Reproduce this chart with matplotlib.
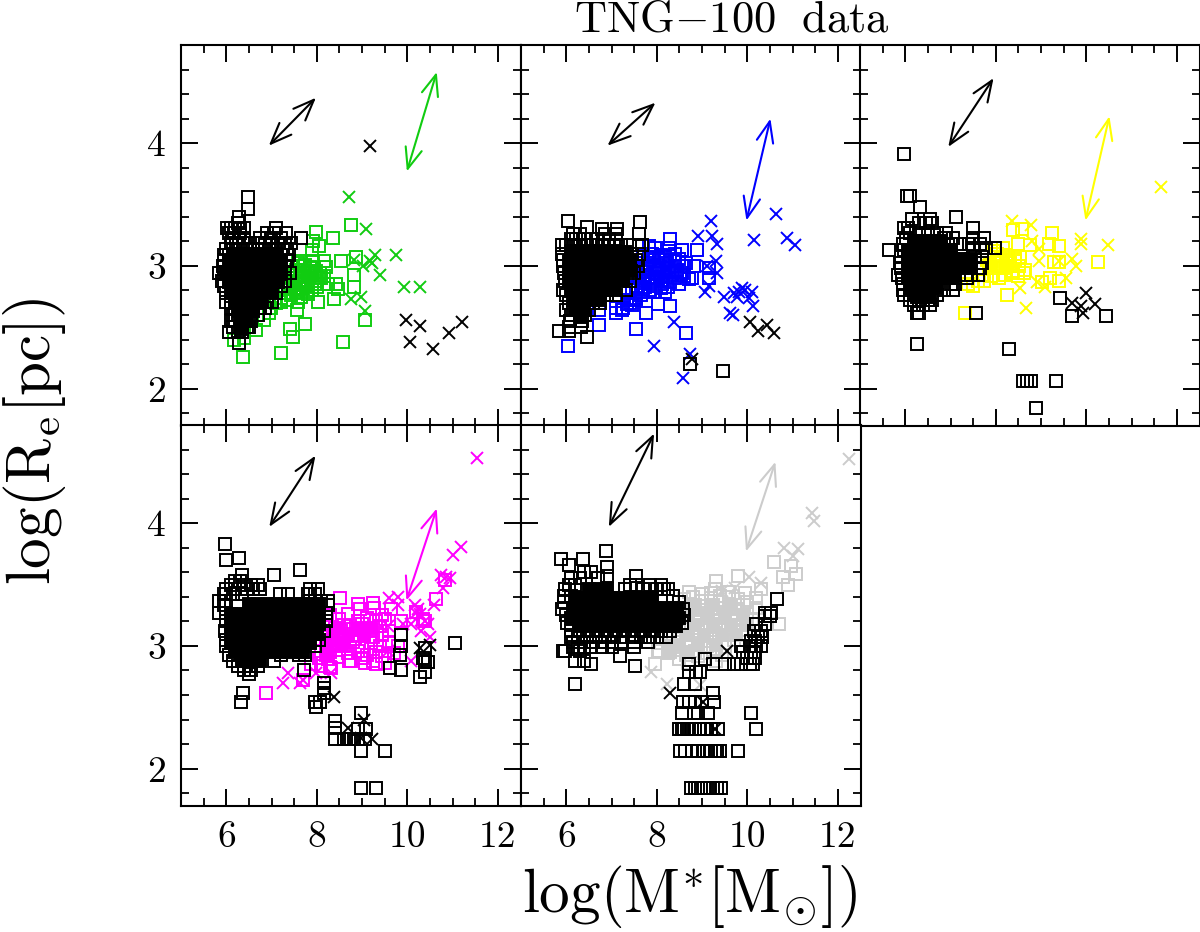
import matplotlib
matplotlib.use("Agg")
import matplotlib.pyplot as plt

plt.rcParams['font.family'] = ['cmr10', 'DejaVu Serif']
plt.rcParams['mathtext.fontset'] = 'cm'
plt.rcParams['axes.formatter.use_mathtext'] = True

# black open squares: (y, [x, ...]) rows
p1_black_sq = [(3.56,[6.47]),(3.46,[6.47]),(3.40,[6.28]),(3.35,[6.27,6.29]),(3.31,[6.02,6.1,6.2,6.31,6.4,7.09]),
	(3.27,[6.05,6.18,6.3,6.9,7.06,7.32]),(3.23,[6.12,6.28,6.4,6.75,6.98,7.2,7.64]),
	(3.19,[6.1,6.22,6.38,6.52,6.7,6.85,7.0,7.15,7.3,7.42]),(3.14,[6.0,6.15,6.3,6.45,6.6,6.78,6.95,7.1,7.25,7.35]),
	(3.09,[5.95,6.05,7.2,7.38]),(3.05,[5.95,7.35]),(3.0,[5.92,7.3]),(2.94,[5.85,5.95,7.3,7.4]),(2.88,[5.9,7.3]),
	(2.84,[5.95,7.2]),(2.78,[6.0,7.1]),(2.71,[6.0,6.1,6.9,7.0]),(2.66,[6.1,6.2,6.75,6.85]),(2.6,[6.15,6.25,6.55,6.7]),
	(2.55,[6.1,6.2,6.5,6.55]),(2.5,[6.15,6.3,6.45,6.5]),(2.46,[6.05,6.25,6.35]),(2.37,[6.29])]
# centre of the clump, where the overlapping squares read as solid black
p1_black_core = [(3.10,[6.15,6.35,6.55,6.75,6.95,7.1]),(3.03,[6.05,6.25,6.45,6.65,6.85,7.05,7.2]),
	(2.95,[6.0,6.2,6.4,6.6,6.8,7.0,7.2]),(2.87,[6.05,6.25,6.45,6.65,6.85,7.05,7.15]),(2.79,[6.1,6.3,6.5,6.7,6.9,7.0]),
	(2.71,[6.2,6.4,6.6,6.8]),(2.63,[6.28,6.45,6.6]),(2.56,[6.3,6.45]),(2.49,[6.35])]
p1_color_core = []
p1_color_sq_x = [7.99,8.75,8.36,7.91,8.04,7.90,7.62,7.91,8.17,8.54,8.87,8.21,8.83,8.82,8.43,8.47,8.24,7.62,7.80,7.95,8.10,7.51,7.73,7.95,7.36,7.58,7.80,8.02,8.37,7.58,7.57,7.21,6.99,6.84,6.66,6.18,6.40,6.38,7.21,7.47,7.41,7.74,8.58,9.06,7.7,7.85,8.0,7.55,7.68,8.15,
	7.42,7.5,7.58,7.66,7.74,7.82,7.9,7.98,8.06,7.45,7.55,7.65,7.75,7.85,7.95,8.05,7.4,7.5,7.6,7.7,7.8,7.9,8.0,7.3,7.42,7.54,7.66,7.78,7.2,7.35,7.1,6.95]
p1_color_sq_y = [3.28,3.33,3.23,3.20,3.16,3.13,3.04,3.04,3.04,3.04,3.07,2.99,2.93,2.83,2.85,2.81,2.85,2.93,2.96,2.93,2.90,2.88,2.88,2.85,2.82,2.79,2.77,2.71,2.73,2.71,2.64,2.71,2.66,2.56,2.48,2.40,2.41,2.26,2.29,2.42,2.49,2.53,2.38,2.56,3.0,2.99,2.9,2.97,2.82,2.92,
	3.0,2.95,3.02,2.97,3.01,2.94,2.98,2.96,2.94,2.9,2.87,2.91,2.86,2.92,2.88,2.9,2.84,2.81,2.85,2.82,2.84,2.8,2.83,2.78,2.76,2.78,2.75,2.79,2.74,2.72,2.7,2.62]
p1_color_x_x = [8.72,9.09,9.28,9.74,8.83,9.17,9.02,9.39,9.93,10.29,8.98,8.75,9.07,9.22]
p1_color_x_y = [3.56,3.30,3.09,3.09,3.05,3.04,3.0,2.93,2.83,2.83,2.75,2.73,2.63,3.02]
p1_black_x_x = [9.17,9.96,10.27,10.06,10.56,10.93,11.2]
p1_black_x_y = [3.98,2.56,2.51,2.38,2.32,2.45,2.54]

p2_black_sq = [(3.37,[6.04]),(3.36,[7.62]),(3.32,[6.45]),(3.3,[6.79,7.11]),(3.26,[6.15,6.3,6.85,7.1,7.6]),
	(3.22,[6.1,6.22,6.4,6.55,6.7,6.95,7.1]),(3.17,[5.9,6.0,6.15,6.3,6.45,6.6,6.78,6.92,7.05,7.22,7.4,7.6,7.68]),
	(3.1,[5.9,7.45,7.6]),(3.05,[5.92,7.55]),(3.0,[5.92,7.58]),(2.94,[5.95,7.5]),(2.88,[5.98,7.4]),(2.8,[5.92,7.32]),
	(2.76,[6.0,6.9,7.1]),(2.7,[6.05,6.6,6.75]),(2.64,[6.0,6.15,6.3,6.5]),(2.6,[6.1,6.3,6.42]),(2.55,[6.09,6.35]),
	(2.5,[6.33,6.06]),(2.47,[5.85,6.05]),(2.42,[6.45]),(2.20,[8.73]),(2.14,[9.46])]
p2_black_core = [(3.11,[6.1,6.3,6.5,6.7,6.9,7.1,7.3]),(3.04,[6.05,6.25,6.45,6.65,6.85,7.05,7.25,7.4]),
	(2.96,[6.05,6.25,6.45,6.65,6.85,7.05,7.25,7.42]),(2.88,[6.05,6.25,6.45,6.65,6.85,7.05,7.25]),
	(2.8,[6.1,6.3,6.5,6.7,6.9,7.05]),(2.72,[6.15,6.35,6.55,6.75]),(2.65,[6.2,6.4]),(2.58,[6.3])]
p2_color_core = []
p2_color_sq_x = [8.30,8.89,8.56,8.27,7.97,7.82,7.93,8.19,8.41,8.82,9.15,8.05,8.27,8.53,8.78,7.97,7.75,8.12,7.82,7.53,7.68,8.49,8.71,8.19,7.97,7.53,7.23,7.09,8.02,8.30,7.77,6.72,7.54,8.65,6.04,9.15,6.72,8.4,8.6,7.7,7.85,8.05,7.6,7.35,7.45,
	7.7,7.8,7.9,8.0,8.1,8.2,8.3,8.4,8.5,8.65,7.65,7.75,7.85,7.95,8.05,8.15,8.25,8.35,8.45,8.55,7.6,7.7,7.8,7.9,8.0,8.1,8.2,8.3,8.4,8.6,7.55,7.65,7.75,7.85,7.95,8.1,8.25,7.45,7.55,7.65,7.4,7.5,7.25,7.35,7.1]
p2_color_sq_y = [3.22,3.13,3.13,3.15,3.15,3.16,3.07,3.07,3.04,3.0,2.98,2.98,2.96,2.93,2.90,2.90,2.93,2.85,2.85,2.82,2.79,2.85,2.89,2.79,2.79,2.73,2.64,2.66,2.69,2.67,2.62,2.52,2.49,2.45,2.35,2.90,2.64,3.1,3.0,3.02,3.1,3.06,2.9,2.72,2.68,
	3.08,3.02,3.1,3.01,3.09,3.02,3.08,3.0,3.06,3.02,2.97,2.95,2.98,2.94,2.97,2.94,2.98,2.95,2.97,2.94,2.9,2.88,2.91,2.87,2.9,2.88,2.91,2.87,2.9,2.92,2.83,2.81,2.83,2.8,2.84,2.82,2.83,2.78,2.74,2.76,2.7,2.72,2.66,2.69,2.62]
p2_color_x_x = [9.19,8.91,9.22,9.34,10.15,10.63,10.87,11.05,9.30,9.11,9.34,9.15,9.06,9.48,9.71,9.89,9.78,10.11,10.03,10.13,9.61,9.68,8.38,7.93,8.73,8.58,9.82,9.95]
p2_color_x_y = [3.37,3.24,3.24,3.18,3.21,3.42,3.23,3.17,3.04,3.0,2.94,2.84,2.79,2.75,2.78,2.82,2.75,2.79,2.74,2.67,2.62,2.60,2.54,2.35,2.28,2.09,2.79,2.8]
p2_black_x_x = [8.78,10.05,10.24,10.43,10.59]
p2_black_x_y = [2.24,2.54,2.47,2.52,2.45]

p3_black_sq = [(3.91,[5.98]),(3.57,[6.03,6.1]),(3.48,[6.33]),(3.40,[7.12]),(3.38,[6.15,6.55]),(3.35,[6.3,6.45,6.6]),(3.31,[5.98,6.05,7.49]),
	(3.27,[6.1,6.3,6.5,6.7,6.9]),(3.23,[6.02,6.85,7.05,7.5,7.75]),(3.18,[5.95,7.0,7.2,7.4,7.65]),(3.15,[7.99,7.5,7.78]),(3.13,[5.63,5.98]),
	(3.07,[5.9,7.55,7.7]),(3.02,[5.88,7.7]),(2.98,[5.9,7.65]),(2.93,[5.85,7.45,7.35,7.6]),(2.9,[5.92,7.37]),(2.85,[5.95,7.0,7.1]),
	(2.8,[5.95,6.85,7.06]),(2.76,[5.97,6.2,6.7]),(2.72,[6.1,6.3,6.5,6.6]),(2.68,[6.2,6.4,6.55]),(2.62,[6.25,6.3,7.57]),
	(2.74,[9.41]),(2.59,[9.68,10.44]),(2.36,[6.25]),(2.32,[8.29]),(2.06,[8.61,8.69,8.78,9.33]),(1.84,[8.89])]
p3_black_core = [(3.2,[6.2,6.4,6.6,6.8]),(3.13,[6.05,6.25,6.45,6.65,6.85,7.0]),(3.06,[6.05,6.25,6.45,6.65,6.85,7.05,7.25,7.45]),
	(2.98,[6.05,6.25,6.45,6.65,6.85,7.05,7.25,7.45]),(2.9,[6.05,6.25,6.45,6.65,6.85,7.05]),(2.82,[6.1,6.3,6.5,6.7]),
	(2.75,[6.25,6.4,6.55])]
p3_color_core = [(3.0,[7.85,8.25])]
p3_color_sq_x = [8.39,8.58,9.25,9.17,9.39,8.76,8.50,8.17,7.95,10.25,9.28,9.39,8.25,8.43,8.10,7.88,8.65,8.39,8.17,7.95,7.69,8.06,9.02,9.19,9.39,8.24,7.32,7.38,7.95,8.32,8.54,
	8.02,8.12,8.22,8.32,8.42,8.52,8.62,7.8,7.9,8.2,8.35,8.5,7.75,7.6,7.5]
p3_color_sq_y = [3.29,3.30,3.27,3.18,3.16,3.17,3.18,3.15,3.12,3.03,3.03,3.03,3.07,3.04,3.04,3.01,2.97,2.96,2.98,2.98,2.93,2.90,2.87,2.90,2.88,2.76,2.62,2.85,3.07,3.0,3.07,
	3.1,3.06,3.09,3.02,3.06,3.0,2.94,3.05,2.92,2.93,2.94,2.92,2.88,2.88,2.84]
p3_color_x_x = [11.65,8.36,8.78,8.80,8.95,8.96,9.88,9.88,10.47,9.68,9.78,9.55,8.91,9.09,8.53,8.67,9.39]
p3_color_x_y = [3.64,3.37,3.33,3.20,3.14,3.04,3.22,3.18,3.17,3.06,3.0,2.90,2.87,2.83,2.82,2.66,3.04]
p3_black_x_x = [9.99,9.68,9.88,10.2,9.93]
p3_black_x_y = [2.78,2.70,2.67,2.69,2.62]

p4_black_sq = [(3.83,[5.98]),(3.72,[6.28]),(3.70,[5.99]),(3.62,[7.62]),(3.58,[6.34,7.06]),(3.53,[6.2,6.3]),(3.5,[6.1,6.4,6.55,6.7]),
	(3.46,[6.0,6.2,6.45,6.6,6.75,7.84,8.02]),(3.42,[5.95,6.15,6.35,7.18,7.36,7.8,7.95]),(3.37,[5.85,6.0,8.24,7.85,8.1]),(3.33,[5.95,8.25]),
	(3.27,[5.85,6.0,8.2]),(3.2,[6.0,8.2]),(3.12,[5.98,8.15]),(3.05,[6.0,8.05]),(3.0,[6.0,7.95]),(2.93,[6.05,7.2,7.6,7.75]),
	(2.88,[6.15,6.4,6.7,7.05]),(2.84,[6.25,6.4,6.55,6.7]),(2.8,[6.4,6.55,7.71]),(2.77,[6.51]),(2.62,[6.36]),(2.54,[6.33,7.95,8.06]),
	(2.70,[8.15]),(2.66,[8.15]),(2.62,[8.15]),(2.5,[7.99]),(2.45,[8.97]),(2.39,[8.41]),(2.33,[8.41]),(2.32,[8.91,9.09]),
	(2.24,[8.41,8.61,8.72,8.76,8.82,8.91,9.06]),(2.14,[8.97,9.50]),(1.84,[8.97,9.31]),(3.09,[9.85]),(3.0,[9.85]),(2.93,[9.83]),
	(2.80,[9.85]),(2.82,[9.62]),(3.02,[11.05]),(2.98,[10.38]),(2.87,[10.46,10.38]),(2.79,[10.38]),(2.75,[10.29]),(2.90,[10.35])]
p4_black_core = [(3.34,[6.5,6.7,6.9,7.1,7.3,7.5,7.7,7.9,8.05]),(3.26,[6.1,6.3,6.5,6.7,6.9,7.1,7.3,7.5,7.7,7.9,8.05]),
	(3.18,[6.1,6.3,6.5,6.7,6.9,7.1,7.3,7.5,7.7,7.9,8.05]),(3.1,[6.1,6.3,6.5,6.7,6.9,7.1,7.3,7.5,7.7,7.9,8.0]),
	(3.02,[6.1,6.3,6.5,6.7,6.9,7.1,7.3,7.5,7.7,7.85]),(2.95,[6.2,6.4,6.6,6.8,7.0,7.2,7.4,7.6,7.7]),(2.88,[6.35,6.55,6.75])]
p4_color_core = [(3.15,[8.5,8.9,9.2]),(3.08,[8.35,8.7,9.05]),(3.0,[8.25,8.55]),(2.93,[8.2])]
p4_color_sq_x = [8.52,8.91,8.95,9.24,9.27,9.65,9.43,10.64,10.83,10.4,8.32,8.72,9.06,9.31,9.61,9.43,7.69,6.87,7.88,
	8.3,8.5,8.7,8.9,9.1,9.3,9.5,8.2,8.4,8.6,8.8,9.0,9.2,9.4,9.6,8.25,8.45,8.65,8.85,9.05,9.25,9.45,8.0,8.2,8.4,8.6,8.8,9.0,9.2,9.4,9.6,9.8,
	8.1,8.3,8.5,8.7,8.9,9.1,9.3,9.5,9.7,8.05,8.25,8.5,8.75,9.0,9.25,9.5,8.1,8.3,9.85,10.2,10.35]
p4_color_sq_y = [3.39,3.34,3.30,3.35,3.31,3.30,3.25,3.38,3.54,3.2,2.82,2.88,2.86,2.85,2.82,2.92,2.72,2.62,2.85,
	3.25,3.22,3.26,3.2,3.23,3.2,3.22,3.17,3.15,3.17,3.14,3.18,3.13,3.16,3.12,3.09,3.08,3.1,3.06,3.1,3.07,3.09,3.05,3.01,3.02,3.0,3.03,2.99,3.02,3.0,3.03,3.0,
	2.96,2.95,2.97,2.94,2.96,2.93,2.95,2.92,2.94,2.9,2.89,2.91,2.88,2.9,2.88,2.86,2.84,2.83,3.2,3.28,3.22]
p4_color_x_x = [11.54,11.18,11.0,10.75,10.94,10.79,10.60,9.59,9.79,9.79,10.16,10.24,10.27,10.38,10.46,9.90,10.09,9.57,10.31,10.49,9.57,10.09,7.36,7.25,7.62,7.99,8.32,7.69,10.2,10.85]
p4_color_x_y = [4.53,3.81,3.74,3.58,3.55,3.47,3.33,3.39,3.40,3.33,3.33,3.30,3.26,3.20,3.18,3.18,3.18,3.16,3.12,3.07,2.96,2.88,2.78,2.70,2.70,2.78,2.78,2.72,3.27,3.56]
p4_black_x_x = [10.49,10.27,8.39,9.04,8.69,9.22,8.98]
p4_black_x_y = [3.01,2.98,2.58,2.40,2.33,2.24,2.25]

p5_black_sq = [(3.77,[6.87]),(3.71,[5.89,6.37]),(3.66,[6.05]),(3.64,[6.9]),(3.6,[6.4,6.55]),(3.57,[7.53,6.9]),(3.55,[6.1,6.3,6.7]),
	(3.5,[6.05,6.2,7.4,7.55,7.85,8.1]),(3.46,[5.98,7.3,7.7,8.0,8.15,8.25]),(3.41,[5.95,6.1,8.35]),(3.36,[5.95,8.5]),(3.3,[5.9,8.58]),
	(3.25,[6.0,8.6]),(3.19,[6.02,8.55]),(3.12,[6.1,6.3,6.5,6.7,6.9,7.1,7.3,7.5,7.7,7.9,8.1,8.3]),
	(3.07,[6.1,6.25,6.45,6.65,6.85,7.05,7.25,7.45,7.65,7.85,8.0,8.2]),(3.03,[6.15,6.4,6.6,6.8,7.0,7.2,7.5,7.8]),
	(2.99,[6.15,6.25,6.4,6.55,6.8,7.0,7.5]),(2.96,[5.92,5.97,6.3]),(2.92,[7.18]),(2.88,[6.2,6.4]),(2.85,[6.55]),(2.84,[7.51]),(2.69,[6.19]),
	(3.38,[10.66]),(3.27,[10.53,10.38]),(3.24,[10.38,10.5]),(3.18,[10.38,10.2]),(3.12,[10.31,10.15]),(3.07,[10.24,10.32]),(3.04,[10.09,10.18]),
	(3.0,[9.87,10.06,10.3,10.2]),(2.95,[10.09,9.9,10.15]),(2.9,[10.16,10.0]),(2.85,[10.13,9.85,9.5,9.24,9.7,10.05]),(2.89,[9.06]),
	(2.85,[8.72]),(2.79,[8.72,8.87,8.95]),(2.69,[8.6,8.85]),(2.62,[9.24]),(2.54,[8.58,8.72,8.85,9.0,9.26]),
	(2.45,[8.55,8.82,8.92,9.13,10.09]),(2.32,[8.48,8.55,8.6,8.66,8.72,8.78,8.85,8.95,9.05,9.12,9.2,9.35,10.19]),
	(2.14,[8.52,8.62,8.78,8.9,9.02,9.12,9.2,9.28,9.33,9.39,9.8]),(1.84,[8.75,8.85,8.92,8.97,9.04,9.1,9.17,9.25,9.32,9.42])]
p5_black_core = [(3.46,[6.5,6.7,6.9]),(3.39,[6.2,6.4,6.6,6.8,7.0,7.2,7.5,7.7,7.9]),
	(3.31,[6.15,6.35,6.55,6.75,6.95,7.15,7.35,7.55,7.75,7.95,8.15,8.35,8.45]),
	(3.23,[6.1,6.3,6.5,6.7,6.9,7.1,7.3,7.5,7.7,7.9,8.1,8.3,8.5]),
	(3.16,[6.3,6.5,6.7,6.9,7.1,7.3,7.5,7.7,7.9,8.1,8.3,8.42])]
p5_color_core = [(3.33,[8.85,9.25,9.65]),(3.25,[8.7,9.1,9.5,9.9]),(3.17,[8.85,9.25,9.65,10.0]),
	(3.09,[8.65,9.05,9.45,9.75]),(3.01,[8.5,8.9,9.3]),(2.95,[8.3,8.7])]
p5_color_sq_x = [10.59,10.79,11.08,10.9,10.97,9.79,9.31,8.71,9.28,10.31,9.94,10.69,7.95,8.02,8.3,
	8.6,8.8,9.0,9.2,9.4,9.6,9.8,10.0,10.2,8.6,8.8,9.0,9.2,9.4,9.6,9.8,10.0,10.2,8.5,8.7,8.9,9.1,9.3,9.5,9.7,9.9,10.1,
	8.5,8.7,8.9,9.1,9.3,9.5,9.7,9.9,8.3,8.5,8.7,8.9,9.1,9.3,9.5,9.7,8.1,8.3,8.5,8.7,8.9,9.1,9.3,9.5,8.05,8.25,8.45,8.65,8.85,9.05,9.25,9.45,8.5,8.7,8.9,9.3,
	9.0,9.2,9.4,9.6]
p5_color_sq_y = [3.68,3.56,3.59,3.5,3.65,3.57,3.53,3.44,3.46,3.46,3.43,3.18,2.85,2.96,2.96,
	3.38,3.4,3.37,3.39,3.36,3.4,3.38,3.36,3.39,3.3,3.32,3.29,3.31,3.28,3.32,3.3,3.28,3.31,3.22,3.25,3.21,3.24,3.2,3.23,3.21,3.25,3.22,
	3.16,3.14,3.17,3.13,3.16,3.14,3.17,3.13,3.08,3.06,3.09,3.05,3.08,3.06,3.09,3.05,3.02,3.0,3.03,2.99,3.02,3.0,3.03,2.99,2.96,2.94,2.97,2.93,2.96,2.94,2.97,2.93,2.89,2.86,2.92,2.88,
	3.42,3.43,3.41,3.44]
p5_color_x_x = [12.24,11.42,11.48,10.80,11.12,11.01,10.04,10.30,9.72,9.43,7.88,8.22,8.95]
p5_color_x_y = [4.52,4.08,4.02,3.80,3.79,3.73,3.56,3.51,3.47,3.45,2.79,2.69,2.68]
p5_black_x_x = [9.55,8.30,9.02,9.28]
p5_black_x_y = [2.96,2.62,2.54,2.32]

# arrow ends (x0, y0, x1, y1)
p1_arrows = [(6.94,3.98,7.98,4.37),(9.99,3.77,10.65,4.58)]
p2_arrows = [(6.91,3.98,7.97,4.33),(9.98,3.37,10.51,4.20)]
p3_arrows = [(6.95,3.97,7.95,4.53),(9.98,3.37,10.51,4.22)]
p4_arrows = [(6.95,3.97,7.97,4.55),(9.98,3.37,10.65,4.12)]
p5_arrows = [(6.94,3.97,7.94,4.73),(9.97,3.77,10.62,4.50)]

panel_colors = ['#11cc11','#0000ff','#ffff00','#ff00ff','#cccccc']
panels = [
	(p1_black_sq,p1_black_core,p1_color_core,p1_color_sq_x,p1_color_sq_y,p1_color_x_x,p1_color_x_y,p1_black_x_x,p1_black_x_y,p1_arrows),
	(p2_black_sq,p2_black_core,p2_color_core,p2_color_sq_x,p2_color_sq_y,p2_color_x_x,p2_color_x_y,p2_black_x_x,p2_black_x_y,p2_arrows),
	(p3_black_sq,p3_black_core,p3_color_core,p3_color_sq_x,p3_color_sq_y,p3_color_x_x,p3_color_x_y,p3_black_x_x,p3_black_x_y,p3_arrows),
	(p4_black_sq,p4_black_core,p4_color_core,p4_color_sq_x,p4_color_sq_y,p4_color_x_x,p4_color_x_y,p4_black_x_x,p4_black_x_y,p4_arrows),
	(p5_black_sq,p5_black_core,p5_color_core,p5_color_sq_x,p5_color_sq_y,p5_color_x_x,p5_color_x_y,p5_black_x_x,p5_black_x_y,p5_arrows),
]

W, H = 1200, 932
lefts = [181, 521, 860, 181, 521]
tops = [45, 45, 45, 425, 425]
pw, ph = 339.5, 380.5

def unroll(rows):
	xs, ys = [], []
	for y, row in rows:
		for x in row:
			xs.append(x)
			ys.append(y)
	return xs, ys

fig = plt.figure(figsize=(12, 9.32), dpi=100)

for i, panel in enumerate(panels):
	sq, core, ccore, csx, csy, cxx, cxy, bxx, bxy, arrows = panel
	color = panel_colors[i]
	ax = fig.add_axes([lefts[i]/W, 1-(tops[i]+ph)/H, pw/W, ph/H])

	x, y = unroll(ccore)
	ax.plot(x, y, ls='none', marker='s', ms=8, mfc=color, mec=color, mew=1.4)
	ax.plot(csx, csy, ls='none', marker='s', ms=8, mfc='none', mec=color, mew=1.4)
	ax.plot(cxx, cxy, ls='none', marker='x', ms=8.5, mec=color, mew=1.4)
	x, y = unroll(sq)
	ax.plot(x, y, ls='none', marker='s', ms=8, mfc='none', mec='black', mew=1.4)
	x, y = unroll(core)
	ax.plot(x, y, ls='none', marker='s', ms=8, mfc='black', mec='black', mew=1.4)
	ax.plot(bxx, bxy, ls='none', marker='x', ms=8.5, mec='black', mew=1.4)

	for k, (x0, y0, x1, y1) in enumerate(arrows):
		ax.annotate('', xy=(x1, y1), xytext=(x0, y0),
			arrowprops=dict(arrowstyle='<->,head_length=0.75,head_width=0.3', color='black' if k == 0 else color,
				lw=1.5, mutation_scale=20, shrinkA=0, shrinkB=0))

	ax.set_xlim(5, 12.5)
	ax.set_ylim(1.7, 4.8)
	ax.set_xticks([6, 8, 10, 12])
	ax.set_xticks([5.5+0.5*n for n in range(14)], minor=True)
	ax.set_yticks([2, 3, 4])
	ax.set_yticks([1.8+0.2*n for n in range(15)], minor=True)
	ax.tick_params(which='major', direction='in', top=True, right=True, length=12.5, width=1.4, labelsize=27, pad=11)
	ax.tick_params(which='minor', direction='in', top=True, right=True, length=5.5, width=1.3)
	ax.set_xticklabels(['6', '8', '10', '12'] if i >= 3 else [])
	ax.set_yticklabels(['2', '3', '4'] if i in (0, 3) else [])
	for s in ax.spines.values():
		s.set_linewidth(1.5)

fig.text(732/W, 1-20/H, r'$\mathrm{TNG{-}100\ \ data}$', fontsize=32, ha='center', va='center')
fig.text(690/W, 1-896/H, r'$\mathrm{log(M^{*}[M_{\odot}])}$', fontsize=44, ha='center', va='center')
fig.text(34/W, 1-441/H, r'$\mathrm{log(R_{e}[pc])}$', fontsize=44, ha='center', va='center', rotation=90)

fig.savefig('out.png', dpi=100)
